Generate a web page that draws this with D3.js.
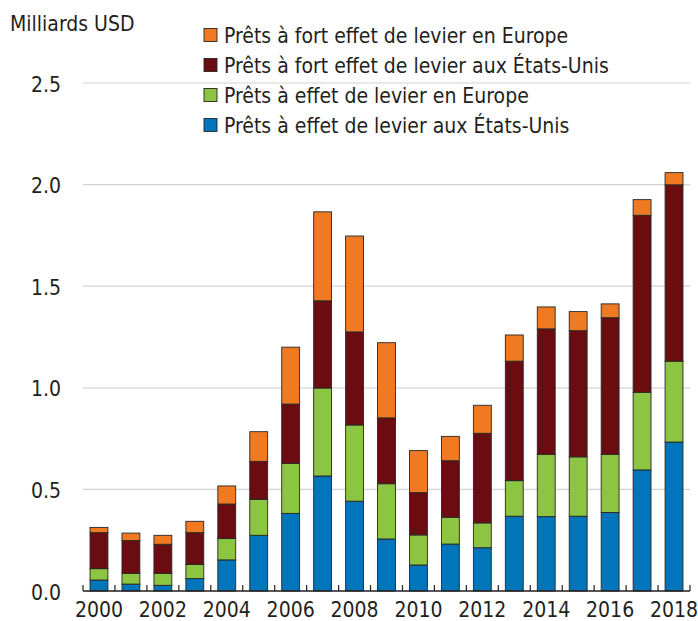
<!DOCTYPE html>
<html>
<head>
<meta charset="utf-8">
<style>
  body { margin: 0; background: #fff; }
  text { font-family: "DejaVu Sans Condensed", "DejaVu Sans", sans-serif; font-stretch: condensed; fill: #231f20; }
</style>
</head>
<body>
<script src="https://cdn.jsdelivr.net/npm/d3@7"></script>
<script>
// data (billions USD)
var years = [2000, 2001, 2002, 2003, 2004, 2005, 2006, 2007, 2008, 2009,
             2010, 2011, 2012, 2013, 2014, 2015, 2016, 2017, 2018];
var usLev   = [0.054, 0.034, 0.028, 0.061, 0.153, 0.274, 0.382, 0.566, 0.442, 0.256,
               0.128, 0.231, 0.213, 0.368, 0.366, 0.368, 0.386, 0.596, 0.733];
var euLev   = [0.056, 0.053, 0.059, 0.070, 0.105, 0.177, 0.246, 0.433, 0.375, 0.272,
               0.148, 0.132, 0.122, 0.175, 0.307, 0.292, 0.287, 0.382, 0.398];
var usHigh  = [0.177, 0.161, 0.143, 0.156, 0.170, 0.187, 0.292, 0.429, 0.458, 0.324,
               0.208, 0.278, 0.441, 0.588, 0.617, 0.621, 0.672, 0.871, 0.868];
var euHigh  = [0.026, 0.037, 0.044, 0.056, 0.089, 0.146, 0.280, 0.438, 0.472, 0.370,
               0.207, 0.120, 0.138, 0.129, 0.108, 0.094, 0.068, 0.077, 0.060];
var yTicks = [0, 0.5, 1.0, 1.5, 2.0, 2.5];
var seriesKeys = ["usLev", "euLev", "usHigh", "euHigh"];
var seriesNames = {
  usLev: "Prêts à effet de levier aux États-Unis",
  euLev: "Prêts à effet de levier en Europe",
  usHigh: "Prêts à fort effet de levier aux États-Unis",
  euHigh: "Prêts à fort effet de levier en Europe"
};
var colors = { usLev: "#0075bc", euLev: "#8bc541", usHigh: "#6b0d10", euHigh: "#f07a22" };

var W = 698, H = 621;
var margin = {top: 83, right: 8, bottom: 30, left: 83};
var fs = "21px";

var rows = years.map(function(y, i) {
  return { year: y, usLev: usLev[i], euLev: euLev[i], usHigh: usHigh[i], euHigh: euHigh[i] };
});

var svg = d3.select("body").append("svg")
    .attr("width", W)
    .attr("height", H);

var x = d3.scaleBand()
    .domain(years)
    .range([margin.left, W - margin.right])
    .paddingInner(0.44)
    .paddingOuter(0.22);

var y = d3.scaleLinear()
    .domain([0, 2.5])
    .range([H - margin.bottom, margin.top]);

// grid
svg.append("g").selectAll("line")
    .data(yTicks.filter(d => d > 0))
  .enter().append("line")
    .attr("x1", margin.left).attr("x2", W - margin.right)
    .attr("y1", d => y(d)).attr("y2", d => y(d))
    .attr("stroke", "#d3d3d3").attr("stroke-width", 1.2);

// y labels
svg.append("g").selectAll("text")
    .data(yTicks)
  .enter().append("text")
    .attr("x", 61)
    .attr("y", d => y(d) + 8.5)
    .attr("text-anchor", "end")
    .style("font-size", fs)
    .text(d => d.toFixed(1));

// stacked bars
var stack = d3.stack().keys(seriesKeys)(rows);
svg.append("g").selectAll("g")
    .data(stack)
  .enter().append("g")
    .attr("fill", d => colors[d.key])
  .selectAll("rect")
    .data(d => d)
  .enter().append("rect")
    .attr("x", d => x(d.data.year))
    .attr("width", x.bandwidth())
    .attr("y", d => y(d[1]))
    .attr("height", d => y(d[0]) - y(d[1]))
    .attr("stroke", "#262626")
    .attr("stroke-width", 0.9);

// x axis baseline and ticks between bars
var step = x.step();
var base = y(0);
var tickXs = years.map(d => x(d) - (step - x.bandwidth()) / 2);
tickXs.push(W - margin.right);
var ax = svg.append("g");
ax.append("line")
    .attr("x1", margin.left).attr("x2", W - margin.right)
    .attr("y1", base).attr("y2", base)
    .attr("stroke", "#231f20").attr("stroke-width", 1.6);
ax.selectAll(".tk")
    .data(tickXs)
  .enter().append("line")
    .attr("class", "tk")
    .attr("x1", d => d).attr("x2", d => d)
    .attr("y1", base).attr("y2", base - 6)
    .attr("stroke", "#231f20").attr("stroke-width", 1.2);
ax.selectAll("text")
    .data(years.filter(d => d % 2 === 0))
  .enter().append("text")
    .attr("x", d => x(d) + x.bandwidth() / 2)
    .attr("y", 617)
    .attr("text-anchor", "middle")
    .style("font-size", fs)
    .text(d => d);

// unit label
svg.append("text")
    .attr("x", 10).attr("y", 31)
    .style("font-size", fs)
    .text("Milliards USD");

// legend
var legendOrder = ["euHigh", "usHigh", "euLev", "usLev"];
var lg = svg.append("g").selectAll("g")
    .data(legendOrder)
  .enter().append("g")
    .attr("transform", (d, i) => "translate(204," + (35 + i * 30) + ")");
lg.append("rect")
    .attr("x", 0).attr("y", -6.5)
    .attr("width", 13).attr("height", 13)
    .attr("fill", d => colors[d])
    .attr("stroke", "#262626").attr("stroke-width", 0.9);
lg.append("text")
    .attr("x", 20).attr("y", 7.5)
    .style("font-size", fs)
    .text(d => seriesNames[d]);
</script>
</body>
</html>
